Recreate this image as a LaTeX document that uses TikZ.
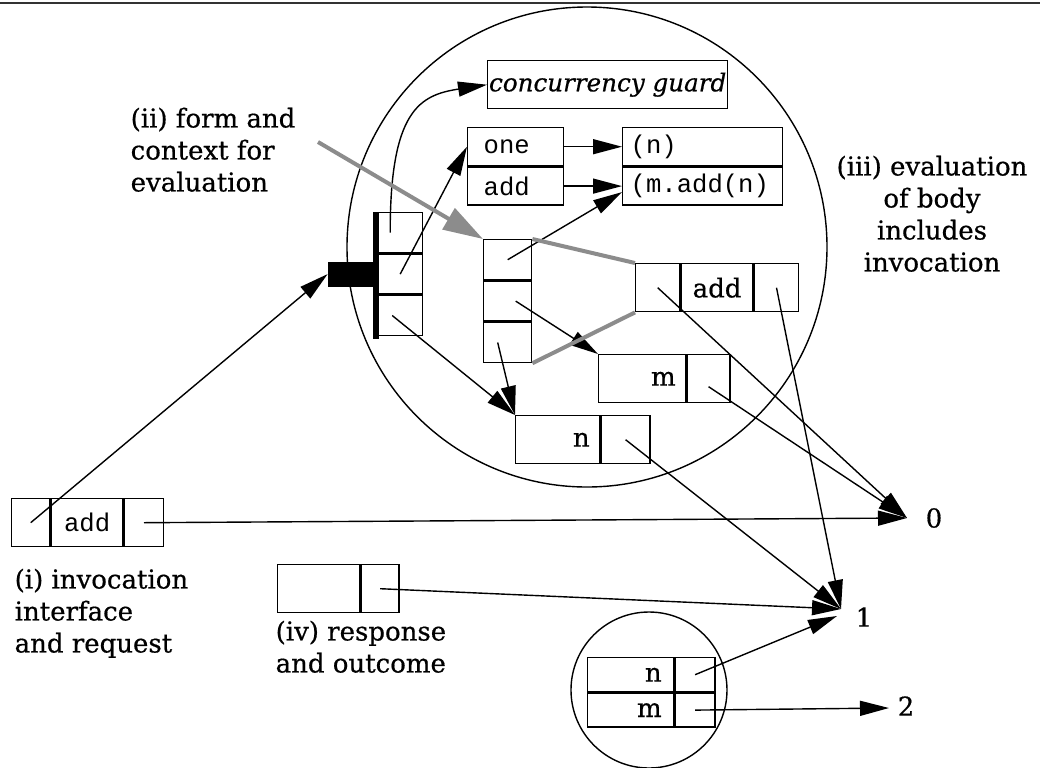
\documentclass[tikz,border=0pt]{standalone}
\usepackage{fontspec}
\setmainfont{DejaVu Serif}[FakeBold=0.6]
\setmonofont{Liberation Mono}
\usepackage{tikz}
\usetikzlibrary{arrows.meta}
\usetikzlibrary{positioning}

\definecolor{formgray}{gray}{0.55}

\begin{document}
\begin{tikzpicture}[x=0.5pt,y=-0.5pt,line width=0.7pt,
  >={Triangle[length=14.5pt,width=7.5pt]},
  every node/.style={font=\fontsize{13}{16}\selectfont},
  cell/.style={draw,inner sep=0pt,minimum height=24pt,anchor=north west},
  code/.style={font=\ttfamily\fontsize{12.8}{16}\selectfont},
  rtext/.style={text width=#1,align=right},
  ltext/.style={text width=#1,align=left},
  note/.style={inner sep=0pt,anchor=north west,align=left},
  formline/.style={formgray,line width=2pt}]

\useasboundingbox (0,0) rectangle (1040,767);
\draw[line width=1pt,black!80] (0,3) -- (1040,3);

% scopes
\draw (587,247) circle[radius=120pt];
\draw (649,690) circle[radius=39pt];

% (i) request
\node[cell,minimum width=19pt] (inv a) at (11,498) {};
\node[cell,minimum width=36pt,right=0pt of inv a,code] (inv b) {add};
\node[cell,minimum width=19.5pt,right=0pt of inv b] (inv c) {};

% (iv) response
\node[cell,minimum width=41pt] (resp a) at (277,564) {};
\node[cell,minimum width=19pt,right=0pt of resp a] (resp b) {};

\node[cell,minimum width=120pt,font=\itshape\fontsize{12.3}{16}\selectfont] (guard) at (487,60) {concurrency guard};

% methods and bodies
\node[cell,minimum width=48pt,minimum height=19pt,code,ltext=32pt] (meth a) at (467,127) {one};
\node[cell,minimum width=48pt,minimum height=19pt,code,ltext=32pt,below=0pt of meth a] (meth b) {add};
\node[cell,minimum width=80pt,minimum height=19pt,code,ltext=72pt] (body a) at (622,127) {(n)};
\node[cell,minimum width=80pt,minimum height=19pt,code,ltext=72pt,below=0pt of body a] (body b) {(m.add(n)};

% context
\node[cell,minimum width=22.5pt,minimum height=20pt] (ctx a) at (377,212) {};
\node[cell,minimum width=22.5pt,minimum height=20pt,below=0pt of ctx a] (ctx b) {};
\node[cell,minimum width=22.5pt,minimum height=20pt,below=0pt of ctx b] (ctx c) {};
\node[fill,inner sep=0pt,minimum width=24pt,minimum height=12.5pt,left=0pt of ctx b] (port) {};
\draw[line width=3pt] ([xshift=-0.5pt]ctx a.north west) -- ([shift={(-0.5pt,-1.5pt)}]ctx c.south west);

% frame
\node[cell,minimum width=24pt,minimum height=20pt] (frm a) at (483,239) {};
\node[cell,minimum width=24pt,minimum height=20pt,below=0pt of frm a] (frm b) {};
\node[cell,minimum width=24pt,minimum height=20pt,below=0pt of frm b] (frm c) {};

\node[cell,minimum width=22pt] (call a) at (635,263) {};
\node[cell,minimum width=36pt,right=0pt of call a] (call b) {add};
\node[cell,minimum width=22pt,right=0pt of call b] (call c) {};

\node[cell,minimum width=43.5pt,rtext=33.5pt] (m a) at (598,354) {m};
\node[cell,minimum width=21.5pt,right=0pt of m a] (m b) {};
\node[cell,minimum width=42pt,rtext=32pt] (n a) at (515,415) {n};
\node[cell,minimum width=24.5pt,right=0pt of n a] (n b) {};

% outcome
\node[cell,minimum width=43pt,minimum height=17pt,rtext=31pt] (out n) at (587,657) {n};
\node[cell,minimum width=20pt,minimum height=17pt,right=0pt of out n] (out nv) {};
\node[cell,minimum width=43pt,minimum height=17pt,rtext=31pt,below=0pt of out n] (out m) {m};
\node[cell,minimum width=20pt,minimum height=17pt,right=0pt of out m] (out mv) {};

% values
\node (zero) at (934,518) {0};
\node (one) at (864,617) {1};
\node (two) at (906,706) {2};
\coordinate (to zero) at (907,518);
\coordinate (to one) at (841,609);
\coordinate (to two) at (889,708);

\node[note] (lbl i) at (14,568) {(i) invocation\\interface\\and request};
\node[note] (lbl ii) at (130,107) {(ii) form and\\context for\\evaluation};
\node[note,align=center,anchor=north] (lbl iii) at (932,155) {(iii) evaluation\\of body\\includes\\invocation};
\node[note] (lbl iv) at (275,620) {(iv) response\\and outcome};
\coordinate (from ii) at (318,142);

\draw[->] (inv a.center) -- (port.west);
\draw[->] (inv c.center) -- (to zero);
\draw[->] ([xshift=-5pt]ctx a.center) .. controls (390,110) and (420,95) .. (guard.west);
\draw[->] (ctx b.center) -- (meth a.west);
\draw[->] ([xshift=-4pt]ctx c.center) -- (n a.north west);
\draw[->] (meth a.east) -- (body a.west);
\draw[->] (meth b.east) -- (body b.west);
\draw[->] (frm a.center) -- ([yshift=-3pt]body b.west);
\draw[->] ([xshift=4pt]frm b.center) -- (m a.north west);
\draw[->] ([xshift=-5pt]frm c.center) -- (n a.north west);

\draw[formline,-{Triangle[length=20pt,width=12pt]}] (from ii) -- (frm a.north west);
\draw[formline] (frm a.north east) -- (call a.north west);
\draw[formline] (frm c.south east) -- (call a.south west);

\draw[->] (call a.center) -- (to zero);
\draw[->] (call c.center) -- (to one);
\draw[->] ([yshift=-4pt]m b.center) -- (to zero);
\draw[->] (n b.center) -- (to one);
\draw[->] (resp b.center) -- (to one);
\draw[->] (out nv.center) -- ([shift={(-2pt,-3.5pt)}]to one);
\draw[->] (out mv.center) -- (to two);
\end{tikzpicture}
\end{document}
